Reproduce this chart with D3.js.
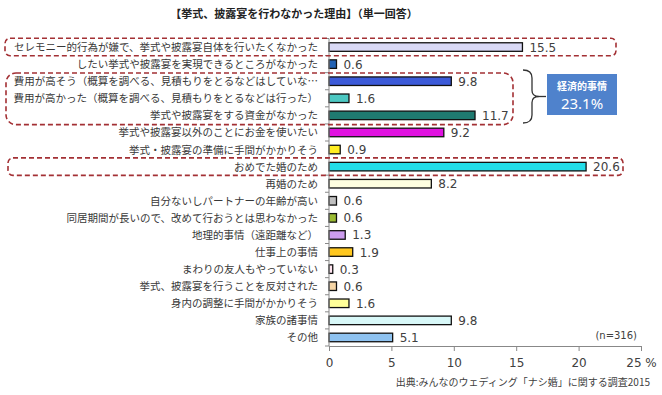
<!DOCTYPE html>
<html><head><meta charset="utf-8">
<script src="https://cdn.jsdelivr.net/npm/d3@7"></script>
<style>
html,body{margin:0;padding:0;background:#fff;}
svg{display:block;}
</style></head>
<body>
<svg id="c" width="662" height="395"></svg>
<script>
const categories = [
  "セレモニー的行為が嫌で、挙式や披露宴自体を行いたくなかった",
  "したい挙式や披露宴を実現できるところがなかった",
  "費用が高そう（概算を調べる、見積もりをとるなどはしていな…",
  "費用が高かった（概算を調べる、見積もりをとるなどは行った）",
  "挙式や披露宴をする資金がなかった",
  "挙式や披露宴以外のことにお金を使いたい",
  "挙式・披露宴の準備に手間がかかりそう",
  "おめでた婚のため",
  "再婚のため",
  "自分ないしパートナーの年齢が高い",
  "同居期間が長いので、改めて行おうとは思わなかった",
  "地理的事情（遠距離など）",
  "仕事上の事情",
  "まわりの友人もやっていない",
  "挙式、披露宴を行うことを反対された",
  "身内の調整に手間がかかりそう",
  "家族の諸事情",
  "その他"
];
const values = [15.5, 0.6, 9.8, 1.6, 11.7, 9.2, 0.9, 20.6, 8.2, 0.6, 0.6, 1.3, 1.9, 0.3, 0.6, 1.6, 9.8, 5.1];
const colors = ["#d9d9f6","#2262b4","#3c5ad8","#4cc8c2","#1f7a70","#e012e0","#ffee22","#22dde8","#ffffe0","#c0c0c0","#9bbb33","#cc9cee","#ffc820","#ffe4f0","#f5d5a5","#ffff99","#d8f8f8","#8ec2f0"];
const xTicks = [0, 5, 10, 15, 20, 25];
const xTickLabels = ["0", "5", "10", "15", "20", "25 %"];
const title = "【挙式、披露宴を行わなかった理由】（単一回答）";
const boxLabel = "経済的事情";
const boxValue = "23.1%";
const nLabel = "(n=316)";
const source = "出典:みんなのウェディング「ナシ婚」に関する調査2015";

const svg = d3.select("#c");
const jp = "'Noto Sans CJK JP','Noto Sans',sans-serif";
const num = "'DejaVu Sans',Verdana,sans-serif";

const x = d3.scaleLinear().domain([0, 25]).range([329, 641]);
const y = d3.scaleBand().domain(categories).range([38.5, 346]).paddingInner(0.5).paddingOuter(0.25);

// title
svg.append("text").attr("x", 294).attr("y", 18).attr("text-anchor", "middle")
  .attr("font-family", jp).attr("font-size", 11).attr("font-weight", "bold").attr("fill", "#222").text(title);

// bars
svg.selectAll("rect.bar").data(categories).join("rect").attr("class", "bar")
  .attr("x", x(0)).attr("y", d => y(d))
  .attr("width", (d, i) => x(values[i]) - x(0)).attr("height", y.bandwidth())
  .attr("fill", (d, i) => colors[i]).attr("stroke", "#111").attr("stroke-width", 1.3);

// value labels
svg.selectAll("text.val").data(categories).join("text").attr("class", "val")
  .attr("x", (d, i) => x(values[i]) + 7).attr("y", d => y(d) + y.bandwidth() / 2 + 4.5)
  .attr("font-family", num).attr("font-size", 12).attr("fill", "#404040")
  .text((d, i) => values[i].toFixed(1));

// category labels
svg.selectAll("text.cat").data(categories).join("text").attr("class", "cat")
  .attr("x", 318).attr("y", d => y(d) + y.bandwidth() / 2 + 4)
  .attr("text-anchor", "end").attr("font-family", jp).attr("font-size", 10.5).attr("fill", "#383838")
  .text(d => d);

// y axis line and boundary ticks
const y0 = y.range()[0], y1 = y.range()[1];
svg.append("line").attr("x1", x(0)).attr("x2", x(0)).attr("y1", y0).attr("y2", y1).attr("stroke", "#888").attr("stroke-width", 1);
d3.range(categories.length + 1).forEach(i => {
  const yy = y0 + (y1 - y0) * i / categories.length;
  svg.append("line").attr("x1", x(0) - 4).attr("x2", x(0)).attr("y1", yy).attr("y2", yy).attr("stroke", "#888");
});

// x axis
const xa = svg.append("g").attr("transform", `translate(0,${y1})`)
  .call(d3.axisBottom(x).tickValues(xTicks).tickFormat((d, i) => xTickLabels[i]).tickSize(5).tickSizeOuter(0).tickPadding(7));
xa.select(".domain").attr("stroke", "#888");
xa.selectAll(".tick line").attr("stroke", "#888");
xa.selectAll("text").attr("font-family", num).attr("font-size", 12).attr("fill", "#404040");

// n label & source
svg.append("text").attr("x", 637).attr("y", 339).attr("text-anchor", "end").attr("font-family", num).attr("font-size", 10).attr("fill", "#404040").text(nLabel);
svg.append("text").attr("x", 650).attr("y", 386).attr("text-anchor", "end").attr("font-family", jp).attr("font-size", 10).attr("fill", "#404040").text(source);

// dashed highlight boxes
const dashC = "#a33034";
function dbox(x0, ya, x1, yb, r) {
  svg.append("rect").attr("x", x0).attr("y", ya).attr("width", x1 - x0).attr("height", yb - ya)
    .attr("rx", r).attr("ry", r).attr("fill", "none").attr("stroke", dashC).attr("stroke-width", 1.6).attr("stroke-dasharray", "5,3");
}
const cA = categories[0], cB = categories[2], cC = categories[4], cD = categories[7];
dbox(5, y(cA) - 4.5, 616, y(cA) + y.bandwidth() + 4.5, 5);
dbox(6, y(cB) - 4, 513, y(cC) + y.bandwidth() + 5, 10);
dbox(8, y(cD) - 4.5, 623, y(cD) + y.bandwidth() + 4.5, 5);

// brace
const bt = 70, bb = 123, bm = (bt + bb) / 2, bx = 523;
svg.append("path").attr("fill", "none").attr("stroke", "#333").attr("stroke-width", 1.3)
  .attr("d", `M${bx},${bt} Q${bx + 9},${bt} ${bx + 9},${bt + 8} L${bx + 9},${bm - 6} Q${bx + 9},${bm} ${bx + 16},${bm} Q${bx + 9},${bm} ${bx + 9},${bm + 6} L${bx + 9},${bb - 8} Q${bx + 9},${bb} ${bx},${bb}`);
svg.append("line").attr("x1", bx + 16).attr("x2", bx + 23).attr("y1", bm).attr("y2", bm).attr("stroke", "#333").attr("stroke-width", 1.3);

// info box
svg.append("rect").attr("x", 547).attr("y", 74).attr("width", 70).attr("height", 41).attr("fill", "#4f82cc");
svg.append("text").attr("x", 582).attr("y", 90).attr("text-anchor", "middle").attr("font-family", jp).attr("font-size", 10).attr("font-weight", "bold").attr("fill", "#fff").text(boxLabel);
svg.append("text").attr("x", 582).attr("y", 109).attr("text-anchor", "middle").attr("font-family", "'Noto Sans',sans-serif").attr("font-size", 15).attr("fill", "#fff").text(boxValue);
</script>
</body></html>
